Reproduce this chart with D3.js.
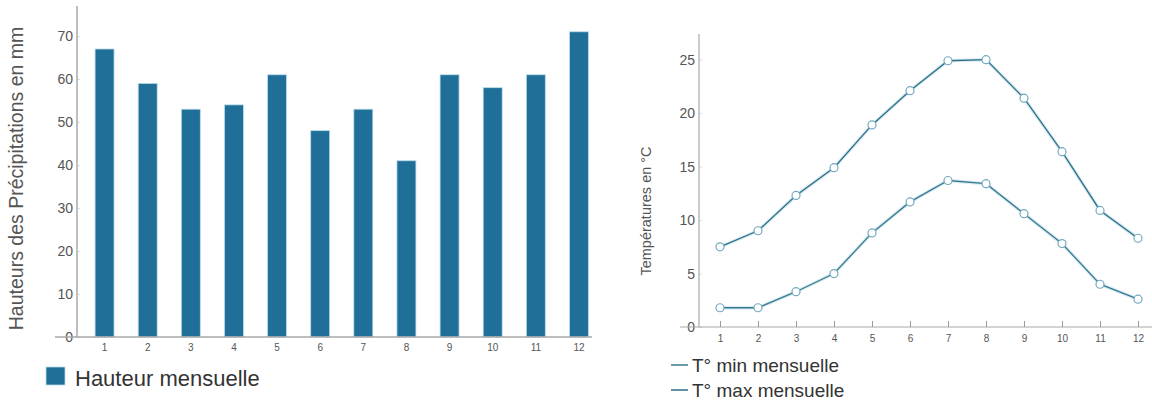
<!DOCTYPE html>
<html>
<head>
<meta charset="utf-8">
<script src="https://cdn.jsdelivr.net/npm/d3@7"></script>
<style>
  html, body { margin: 0; padding: 0; background: #fff; }
  svg { display: block; font-family: "Liberation Sans", Arial, sans-serif; }
</style>
</head>
<body>
<svg id="chart" width="1152" height="403"></svg>
<script>
// ---- data ----
const months = ["1","2","3","4","5","6","7","8","9","10","11","12"];
const precipitation = [67, 59, 53, 54, 61, 48, 53, 41, 61, 58, 61, 71];
const tMin = [1.8, 1.8, 3.3, 5.0, 8.8, 11.7, 13.7, 13.4, 10.6, 7.8, 4.0, 2.6];
const tMax = [7.5, 9.0, 12.3, 14.9, 18.9, 22.1, 24.9, 25.0, 21.4, 16.4, 10.9, 8.3];
const precipTicks = [0, 10, 20, 30, 40, 50, 60, 70];
const tempTicks = [0, 5, 10, 15, 20, 25];
const precipTitle = "Hauteurs des Précipitations en mm";
const tempTitle = "Températures en °C";
const barLegend = "Hauteur mensuelle";
const lineLegends = ["T° min mensuelle", "T° max mensuelle"];

const svg = d3.select("#chart");
const axisColor = "#a8a8a8";
const tickText = "#555";
const barColor = "#1f6f99";

// ---------- Left chart: bars ----------
const xL = d3.scaleBand().domain(months).range([83, 600.5]).paddingInner(0.56).paddingOuter(0.28);
const yL = d3.scaleLinear().domain([0, 77]).range([337, 6]);

const gL = svg.append("g");
gL.selectAll("rect.bar").data(precipitation).join("rect")
  .attr("class", "bar")
  .attr("x", (d, i) => xL(months[i]))
  .attr("y", d => yL(d))
  .attr("width", xL.bandwidth())
  .attr("height", d => yL(0) - yL(d))
  .attr("fill", barColor)
  .attr("stroke", "#bcdcea")
  .attr("stroke-width", 0.8);

const yAxisL = gL.append("g").attr("transform", "translate(77,0)")
  .call(d3.axisRight(yL).tickValues(precipTicks).tickSize(3));
yAxisL.select(".domain").remove();
yAxisL.selectAll(".tick line").attr("stroke", "#ddd");
yAxisL.selectAll(".tick text").attr("text-anchor", "end").attr("x", -4)
  .attr("fill", tickText).style("font-size", "14px");
gL.append("line").attr("x1", 77).attr("x2", 77).attr("y1", yL(77)).attr("y2", yL(0))
  .attr("stroke", axisColor).attr("stroke-width", 1.5);

const xAxisL = gL.append("g").attr("transform", `translate(0,${yL(0)})`)
  .call(d3.axisBottom(xL).tickSize(0).tickPadding(7));
xAxisL.select(".domain").remove();
xAxisL.selectAll(".tick text").attr("fill", tickText).style("font-size", "10px");
gL.append("line").attr("x1", 55).attr("x2", 592).attr("y1", yL(0)).attr("y2", yL(0))
  .attr("stroke", axisColor).attr("stroke-width", 1.5);

gL.append("text")
  .attr("transform", `translate(23,${(yL(0) + yL(77)) / 2 + 7}) rotate(-90)`)
  .attr("text-anchor", "middle")
  .attr("fill", "#555")
  .style("font-size", "19.5px")
  .text(precipTitle);

gL.append("rect").attr("x", 46).attr("y", 367).attr("width", 19).attr("height", 18)
  .attr("fill", barColor).attr("stroke", "#bcdcea").attr("stroke-width", 0.8);
gL.append("text").attr("x", 75).attr("y", 386).attr("fill", "#333")
  .style("font-size", "22px").text(barLegend);

// ---------- Right chart: lines ----------
const xR = d3.scalePoint().domain(months).range([720, 1138]);
const yR = d3.scaleLinear().domain([0, 27.4]).range([327, 34]);
const gR = svg.append("g");

const yAxisR = gR.append("g").attr("transform", "translate(699,0)")
  .call(d3.axisRight(yR).tickValues(tempTicks).tickSize(3));
yAxisR.select(".domain").remove();
yAxisR.selectAll(".tick line").attr("stroke", "#ddd");
yAxisR.selectAll(".tick text").attr("text-anchor", "end").attr("x", -4)
  .attr("fill", tickText).style("font-size", "14px");
gR.append("line").attr("x1", 699).attr("x2", 699).attr("y1", yR(27.4)).attr("y2", yR(0))
  .attr("stroke", axisColor).attr("stroke-width", 1.2);

const xAxisR = gR.append("g").attr("transform", `translate(0,${yR(0)})`)
  .call(d3.axisTop(xR).tickSize(6).tickPadding(0));
xAxisR.select(".domain").remove();
xAxisR.selectAll(".tick line").attr("stroke", "#999");
xAxisR.selectAll(".tick text").attr("y", 15).attr("dy", 0)
  .attr("fill", tickText).style("font-size", "10px");
gR.append("line").attr("x1", 680).attr("x2", 1152).attr("y1", yR(0)).attr("y2", yR(0))
  .attr("stroke", axisColor).attr("stroke-width", 1.2);

gR.append("text")
  .attr("transform", `translate(651,211) rotate(-90)`)
  .attr("text-anchor", "middle")
  .attr("fill", "#555")
  .style("font-size", "14.5px")
  .text(tempTitle);

const line = d3.line().x((d, i) => xR(months[i])).y(d => yR(d));
const seriesList = [
  { values: tMin, color: "#3a7a90" },
  { values: tMax, color: "#2f6e86" }
];
seriesList.forEach(s => {
  gR.append("path").attr("d", line(s.values)).attr("fill", "none")
    .attr("stroke", "#d6ebf3").attr("stroke-width", 3.5);
  gR.append("path").attr("d", line(s.values)).attr("fill", "none")
    .attr("stroke", s.color).attr("stroke-width", 1.3);
  gR.selectAll(null).data(s.values).join("circle")
    .attr("cx", (d, i) => xR(months[i]))
    .attr("cy", d => yR(d))
    .attr("r", 4)
    .attr("fill", "#fff")
    .attr("stroke", "#74a9bf")
    .attr("stroke-width", 1.2);
});

lineLegends.forEach((t, i) => {
  const y = 365 + i * 25;
  gR.append("line").attr("x1", 671).attr("x2", 688).attr("y1", y).attr("y2", y)
    .attr("stroke", seriesList[i].color).attr("stroke-width", 1.5);
  gR.append("text").attr("x", 692).attr("y", y + 6.5).attr("fill", "#333")
    .style("font-size", "19px").text(t);
});
</script>
</body>
</html>
